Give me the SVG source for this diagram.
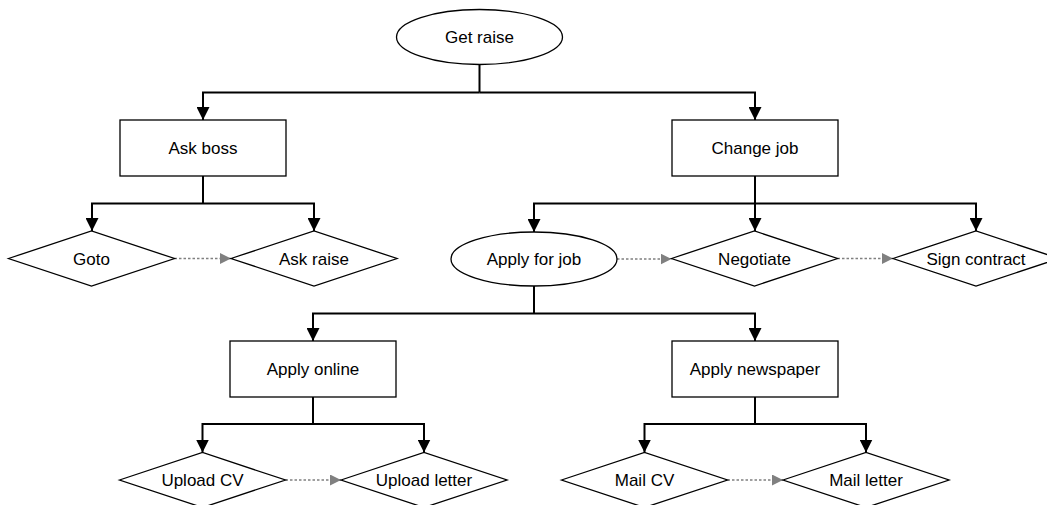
<svg xmlns="http://www.w3.org/2000/svg" width="1047" height="505" viewBox="0 0 1047 505">
<style>
.shape{fill:#fff;stroke:#000;stroke-width:1.3}
.lbl{font-family:"Liberation Sans",Arial,sans-serif;font-size:17px;fill:#000;text-anchor:middle}
.tree{fill:none;stroke:#000;stroke-width:2}
.seq{fill:none;stroke:#808080;stroke-width:1.6;stroke-dasharray:2.5,2}
</style>
<defs>
<marker id="ah" markerUnits="userSpaceOnUse" markerWidth="13" markerHeight="13" refX="13" refY="6.5" orient="auto">
<path d="M0,0 L13,6.5 L0,13 z" fill="#000"/>
</marker>
<marker id="ag" markerUnits="userSpaceOnUse" markerWidth="11" markerHeight="11" refX="11" refY="5.5" orient="auto">
<path d="M0,0 L11,5.5 L0,11 z" fill="#808080"/>
</marker>
</defs>
<rect width="1047" height="505" fill="#fff"/>
<g id="connectors">
<path class="tree" d="M479.5,64.5 V92.5"/>
<path class="tree" d="M479.5,92.5 H203 V120" marker-end="url(#ah)"/>
<path class="tree" d="M479.5,92.5 H755 V120" marker-end="url(#ah)"/>
<path class="tree" d="M203,176 V203.5"/>
<path class="tree" d="M203,203.5 H92 V231" marker-end="url(#ah)"/>
<path class="tree" d="M203,203.5 H314 V231" marker-end="url(#ah)"/>
<path class="tree" d="M755,176 V231" marker-end="url(#ah)"/>
<path class="tree" d="M755,203.5 H534 V232" marker-end="url(#ah)"/>
<path class="tree" d="M755,203.5 H976 V231" marker-end="url(#ah)"/>
<path class="tree" d="M534,286 V313.5"/>
<path class="tree" d="M534,313.5 H313 V341" marker-end="url(#ah)"/>
<path class="tree" d="M534,313.5 H755 V341" marker-end="url(#ah)"/>
<path class="tree" d="M313,397 V424"/>
<path class="tree" d="M313,424 H202.5 V452.5" marker-end="url(#ah)"/>
<path class="tree" d="M313,424 H424 V452.5" marker-end="url(#ah)"/>
<path class="tree" d="M755,397 V424"/>
<path class="tree" d="M755,424 H644.5 V452.5" marker-end="url(#ah)"/>
<path class="tree" d="M755,424 H866 V452.5" marker-end="url(#ah)"/>
<path class="seq" d="M174.5,258.5 H231" marker-end="url(#ag)"/>
<path class="seq" d="M617,259 H671.5" marker-end="url(#ag)"/>
<path class="seq" d="M837.5,258.5 H893" marker-end="url(#ag)"/>
<path class="seq" d="M285.5,480 H341" marker-end="url(#ag)"/>
<path class="seq" d="M727.5,480 H783" marker-end="url(#ag)"/>
</g>
<g id="get-raise"><ellipse class="shape" cx="479.5" cy="37" rx="83" ry="27.5"/><text class="lbl" x="479.5" y="43">Get raise</text></g>
<g id="ask-boss"><rect class="shape" x="120" y="120" width="166" height="56"/><text class="lbl" x="203" y="154">Ask boss</text></g>
<g id="change-job"><rect class="shape" x="672" y="120" width="166" height="56"/><text class="lbl" x="755" y="154">Change job</text></g>
<g id="goto"><polygon class="shape" points="8.5,258.5 91.5,231 174.5,258.5 91.5,286"/><text class="lbl" x="91.5" y="264.5">Goto</text></g>
<g id="ask-raise"><polygon class="shape" points="231,258.5 314,231 397,258.5 314,286"/><text class="lbl" x="314" y="264.5">Ask raise</text></g>
<g id="apply-for-job"><ellipse class="shape" cx="534" cy="259" rx="83" ry="27"/><text class="lbl" x="534" y="265">Apply for job</text></g>
<g id="negotiate"><polygon class="shape" points="671.5,258.5 754.5,231 837.5,258.5 754.5,286"/><text class="lbl" x="754.5" y="264.5">Negotiate</text></g>
<g id="sign-contract"><polygon class="shape" points="893,258.5 976,231 1059,258.5 976,286"/><text class="lbl" x="976" y="264.5">Sign contract</text></g>
<g id="apply-online"><rect class="shape" x="230" y="341" width="166" height="56"/><text class="lbl" x="313" y="375">Apply online</text></g>
<g id="apply-newspaper"><rect class="shape" x="672" y="341" width="166" height="56"/><text class="lbl" x="755" y="375">Apply newspaper</text></g>
<g id="upload-cv"><polygon class="shape" points="119.5,480 202.5,452.5 285.5,480 202.5,507.5"/><text class="lbl" x="202.5" y="486">Upload CV</text></g>
<g id="upload-letter"><polygon class="shape" points="341,480 424,452.5 507,480 424,507.5"/><text class="lbl" x="424" y="486">Upload letter</text></g>
<g id="mail-cv"><polygon class="shape" points="561.5,480 644.5,452.5 727.5,480 644.5,507.5"/><text class="lbl" x="644.5" y="486">Mail CV</text></g>
<g id="mail-letter"><polygon class="shape" points="783,480 866,452.5 949,480 866,507.5"/><text class="lbl" x="866" y="486">Mail letter</text></g>
</svg>
